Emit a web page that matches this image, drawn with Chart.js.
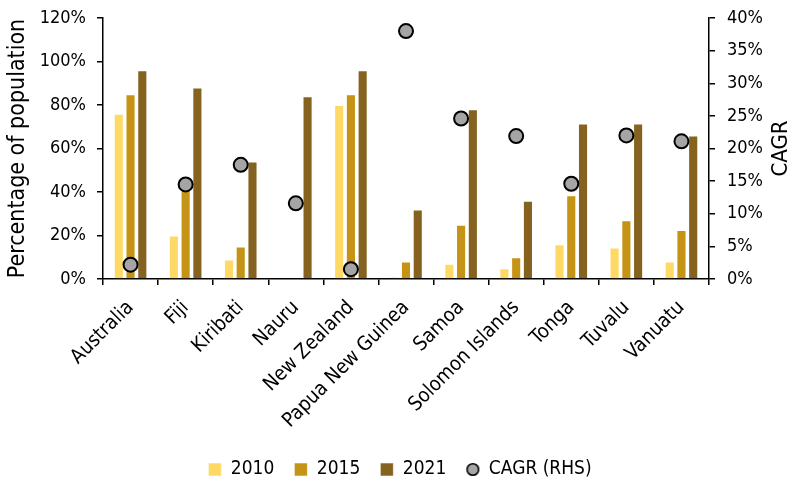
<!DOCTYPE html>
<html>
<head>
<meta charset="utf-8">
<script src="https://cdn.jsdelivr.net/npm/chart.js@4.4.1/dist/chart.umd.min.js"></script>
<style>
  html, body { margin: 0; padding: 0; background: #fff; }
  #wrap { width: 796px; height: 480px; }
</style>
</head>
<body>
<div id="wrap"><canvas id="chart" width="796" height="480"></canvas></div>
<script>
// Chart data
const countries = ['Australia', 'Fiji', 'Kiribati', 'Nauru', 'New Zealand', 'Papua New Guinea',
  'Samoa', 'Solomon Islands', 'Tonga', 'Tuvalu', 'Vanuatu'];
const pop2010 = [76, 20, 9, null, 80, 1, 7, 5, 16, 14.5, 8];
const pop2015 = [85, 42, 15, null, 85, 8, 25, 10, 38.5, 27, 22.5];
const pop2021 = [96, 88, 54, 84, 96, 32, 78, 36, 71.5, 71.5, 66];
const cagr = [2.2, 14.5, 17.5, 11.6, 1.5, 38, 24.6, 21.9, 14.6, 22, 21.1];
const leftTicks = [0, 20, 40, 60, 80, 100, 120];
const rightTicks = [0, 5, 10, 15, 20, 25, 30, 35, 40];

const FONT = 'Tahoma, "DejaVu Sans Condensed", "DejaVu Sans", sans-serif';
Chart.defaults.font.family = FONT;
Chart.defaults.color = '#000';

// smaller grey dot for the legend entry
const legendDot = document.createElement('canvas');
legendDot.width = 15;
legendDot.height = 15;
(function () {
  const c = legendDot.getContext('2d');
  c.beginPath();
  c.arc(7.5, 7.5, 5.8, 0, Math.PI * 2);
  c.fillStyle = '#A5A5A5';
  c.fill();
  c.lineWidth = 1.6;
  c.strokeStyle = '#000';
  c.stroke();
})();

// right axis title reads bottom-to-top, so draw it by hand
const rightTitle = {
  id: 'rightTitle',
  afterDraw(chart) {
    const { ctx, chartArea } = chart;
    ctx.save();
    ctx.translate(781, (chartArea.top + chartArea.bottom) / 2);
    ctx.rotate(-Math.PI / 2);
    ctx.font = '22px ' + FONT;
    ctx.fillStyle = '#000';
    ctx.textAlign = 'center';
    ctx.textBaseline = 'middle';
    ctx.fillText('CAGR', 0, 0);
    ctx.restore();
  }
};

const barStyle = (label, data, color) => ({
  label, data,
  backgroundColor: color,
  borderColor: 'rgba(255,255,255,0.55)',
  borderWidth: 1,
  borderSkipped: 'bottom',
  categoryPercentage: 0.64,
  barPercentage: 0.86,
  pointStyle: 'rect',
  yAxisID: 'y',
  order: 1
});

const axisTicks = (values) => (scale) => {
  scale.ticks = values.map(v => ({ value: v }));
};

// fixed axis widths, no extra room for the end labels
const fitY = (w) => (scale) => {
  scale.width = w;
  scale.paddingTop = 0;
  scale.paddingBottom = 0;
};

const tickMarks = { display: true, drawOnChartArea: false, drawTicks: true, tickLength: 6, color: '#000', lineWidth: 1.5 };
const axisLine = { display: true, color: '#000', width: 1.5 };

new Chart(document.getElementById('chart'), {
  type: 'bar',
  data: {
    labels: countries,
    datasets: [
      barStyle('2010', pop2010, '#FFD966'),
      barStyle('2015', pop2015, '#C59315'),
      barStyle('2021', pop2021, '#85621F'),
      {
        type: 'line',
        label: 'CAGR (RHS)',
        data: cagr,
        showLine: false,
        pointStyle: 'circle',
        pointRadius: 7,
        pointBackgroundColor: '#A5A5A5',
        pointBorderColor: '#000',
        pointBorderWidth: 2,
        backgroundColor: '#A5A5A5',
        borderColor: '#000',
        borderWidth: 2,
        yAxisID: 'y1',
        order: 0
      }
    ]
  },
  options: {
    responsive: false,
    animation: false,
    layout: { padding: { top: 18, right: 0, left: 4, bottom: -9 } },
    plugins: {
      tooltip: { enabled: false },
      legend: {
        position: 'bottom',
        labels: {
          usePointStyle: true,
          boxWidth: 13,
          boxHeight: 13,
          padding: 20,
          font: { size: 19 },
          color: '#000',
          sort: (a, b) => a.datasetIndex - b.datasetIndex,
          generateLabels(chart) {
            const items = Chart.defaults.plugins.legend.labels.generateLabels(chart);
            items.forEach(it => {
              if (it.datasetIndex === 3) {
                it.pointStyle = legendDot;
              }
            });
            return items;
          }
        }
      }
    },
    scales: {
      x: {
        grid: Object.assign({ offset: true }, tickMarks),
        border: axisLine,
        ticks: { maxRotation: 45, minRotation: 45, autoSkip: false, font: { size: 20 }, color: '#000', padding: 11 },
        afterFit(scale) { scale.height = 161; }
      },
      y: {
        position: 'left',
        min: 0, max: 120,
        afterBuildTicks: axisTicks(leftTicks),
        title: { display: true, text: 'Percentage of population', font: { size: 23 }, color: '#000', padding: 0 },
        grid: tickMarks,
        border: axisLine,
        ticks: { font: { size: 18 }, color: '#000', padding: 11, callback: v => v + '%' },
        afterFit: fitY(99)
      },
      y1: {
        position: 'right',
        min: 0, max: 40,
        afterBuildTicks: axisTicks(rightTicks),
        grid: tickMarks,
        border: axisLine,
        ticks: { font: { size: 18 }, color: '#000', padding: 12, callback: v => v + '%' },
        afterFit: fitY(87)
      }
    }
  },
  plugins: [rightTitle]
});
</script>
</body>
</html>
